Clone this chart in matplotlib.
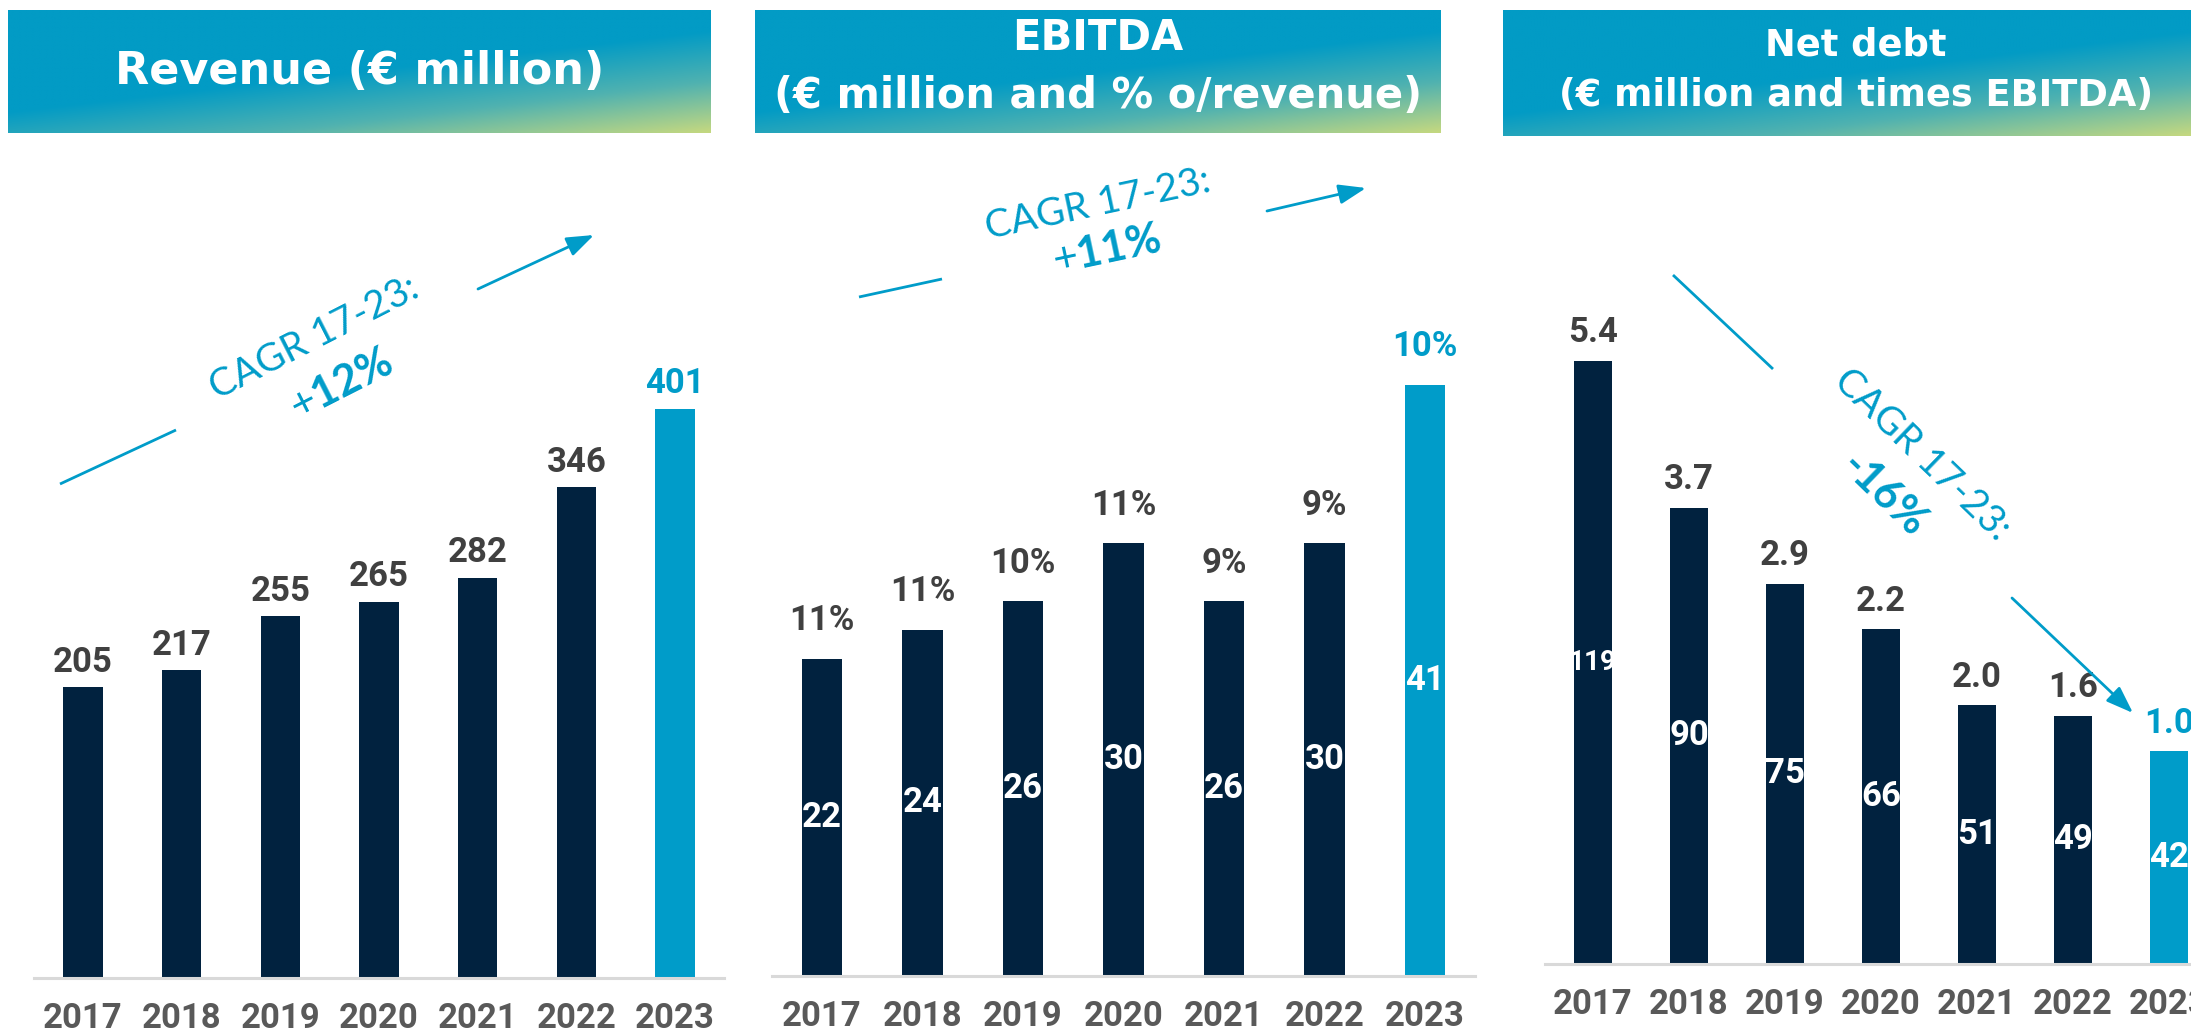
import matplotlib.pyplot as plt
import numpy as np

plt.rcParams['mathtext.fontset'] = 'custom'
plt.rcParams['mathtext.bf'] = 'Lato:bold'
plt.rcParams['mathtext.rm'] = 'Lato'

years = ['2017', '2018', '2019', '2020', '2021', '2022', '2023']
revenue = [205, 217, 255, 265, 282, 346, 401]
ebitda = [22, 24, 26, 30, 26, 30, 41]
ebitda_margin = ['11%', '11%', '10%', '11%', '9%', '9%', '10%']
net_debt = [119, 90, 75, 66, 51, 49, 42]
debt_ebitda = ['5.4', '3.7', '2.9', '2.2', '2.0', '1.6', '1.0']

header_1 = ['Revenue (€ million)']
header_2 = ['EBITDA', '(€ million and % o/revenue)']
header_3 = ['Net debt', '(€ million and times EBITDA)']
cagr_label = 'CAGR 17-23:'
cagr_values = ['+$\\mathbf{12\\%}$', '+$\\mathbf{11\\%}$', '-16%']

NAVY = '#01223F'
BLUE = '#009CC9'
LABEL = '#404040'
YEARS = '#595959'
NUMFONT = 'Roboto'

W, H = 2191, 1033
fig = plt.figure(figsize=(W / 100, H / 100), dpi=100)


def px_axes(x0, x1, ybot, ytop):
    return fig.add_axes([x0 / W, (H - ybot) / H, (x1 - x0) / W, (ybot - ytop) / H])


def bar_panel(ax, vals, top_labels, top_off, inside, ymax):
    x = np.arange(len(vals))
    cols = [NAVY] * (len(vals) - 1) + [BLUE]
    ax.bar(x, vals, width=0.4, color=cols, zorder=2)
    ax.set_xlim(-0.5, 6.5)
    ax.set_ylim(0, ymax)
    ax.patch.set_alpha(0)
    for s in ['top', 'right', 'left']:
        ax.spines[s].set_visible(False)
    ax.spines['bottom'].set_color('#D9D9D9')
    ax.spines['bottom'].set_linewidth(2.2)
    ax.set_xticks([])
    ax.set_yticks([])
    for i, v in enumerate(vals):
        c = BLUE if i == len(vals) - 1 else LABEL
        ax.annotate(top_labels[i], (i, v), xytext=(0, top_off), textcoords='offset pixels',
                    ha='center', va='center', fontsize=25, fontweight='bold',
                    color=c, family=NUMFONT, annotation_clip=False)
        if inside:
            fs = 25 if len(str(v)) < 3 else 20
            ax.text(i, v / 2, str(v), ha='center', va='center', fontsize=fs,
                    fontweight='bold', color='white', family=NUMFONT, zorder=3)
        ax.annotate(years[i], (i, 0), xytext=(0, -40), textcoords='offset pixels',
                    ha='center', va='center', fontsize=25, fontweight='bold',
                    color=YEARS, family=NUMFONT, annotation_clip=False)


ax1 = px_axes(33.7, 724.3, 978, 150)
bar_panel(ax1, revenue, [str(v) for v in revenue], 25, False, (978 - 150) / 1.419)

ax2 = px_axes(771.7, 1475.3, 976, 150)
bar_panel(ax2, ebitda, ebitda_margin, 38, True, (976 - 150) / 14.42)

ax3 = px_axes(1545, 2217, 964, 150)
bar_panel(ax3, net_debt, debt_ebitda, 28, True, (964 - 150) / 5.07)

# overlay in pixel coordinates for headers and CAGR notes
ov = fig.add_axes([0, 0, 1, 1], zorder=10)
ov.axis('off')


def gradient(w=240, h=60):
    u = np.linspace(0, 1, w)[None, :]
    v = np.linspace(0, 1, h)[:, None]
    t = np.clip((0.4 * u + 0.6 * v - 0.5) / 0.5, 0, 1)
    stops = np.array([[2, 155, 197], [80, 178, 176], [196, 216, 128]]) / 255
    img = np.zeros((h, w, 3))
    for k in range(3):
        img[..., k] = np.interp(t, [0, 0.5, 1], stops[:, k])
    return img


boxes = [(8, 711, 10, 133), (755, 1441, 10, 133), (1503, 2191, 10, 136)]
for x0, x1, y0, y1 in boxes:
    ov.imshow(gradient(), extent=(x0, x1, y1, y0), aspect='auto', interpolation='bilinear')

hfont = dict(family='DejaVu Sans', fontweight='bold', color='white', ha='center', va='center')
ov.text(360, 72, header_1[0], fontsize=32, **hfont)
ov.text(1098, 38, header_2[0], fontsize=30, **hfont)
ov.text(1098, 96, header_2[1], fontsize=30, **hfont)
ov.text(1856, 45, header_3[0], fontsize=26.5, **hfont)
ov.text(1856, 96, header_3[1], fontsize=26.5, **hfont)

arrow = dict(arrowstyle='-|>,head_length=0.55,head_width=0.2', color=BLUE, lw=2,
             mutation_scale=30, shrinkA=0, shrinkB=0)
segments = [((60, 484), (176, 430)), ((859, 297), (942, 279)), ((1673, 275), (1773, 369))]
arrows = [((478, 289), (594, 235)), ((1267, 211), (1366, 188)), ((2012, 598), (2133, 713))]
for (a, b) in segments:
    ov.plot([a[0], b[0]], [a[1], b[1]], color=BLUE, lw=2, solid_capstyle='butt')
for (a, b) in arrows:
    ov.annotate('', xy=b, xytext=a, arrowprops=arrow)

cagr_pos = [((314, 338), (342, 385), 27), ((1098, 204), (1107, 251), 12),
            ((1922, 455), (1884, 495), -44)]
for k, (p1, p2, rot) in enumerate(cagr_pos):
    ov.text(p1[0], p1[1], cagr_label, fontsize=28, family='Lato', fontweight='normal',
            color=BLUE, rotation=rot, rotation_mode='anchor', ha='center', va='center')
    w = 'bold' if k == 2 else 'normal'
    ov.text(p2[0], p2[1], cagr_values[k], fontsize=31, family='Lato', fontweight=w,
            color=BLUE, rotation=rot, rotation_mode='anchor', ha='center', va='center')

ov.set_xlim(0, W)
ov.set_ylim(H, 0)

plt.savefig('out.png', dpi=100)
